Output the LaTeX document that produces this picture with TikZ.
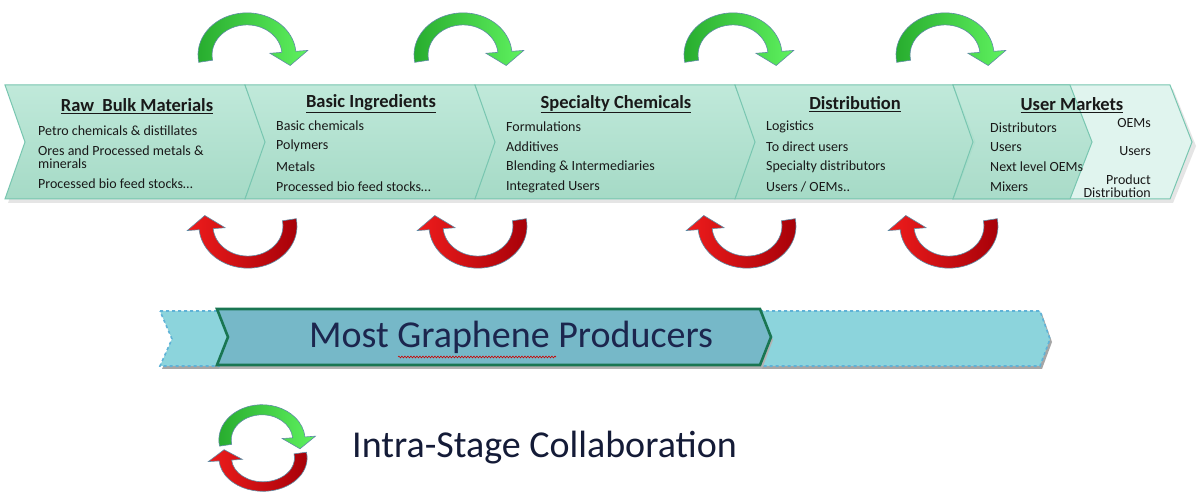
\documentclass[tikz,border=0pt]{standalone}
\usepackage{fontspec}
\setmainfont{Carlito}
\usetikzlibrary{decorations.pathmorphing}
\definecolor{chevfill}{RGB}{165,218,198}
\definecolor{chevtop}{RGB}{192,233,218}
\definecolor{chevedge}{RGB}{120,198,176}
\definecolor{chevlight}{RGB}{224,244,238}
\definecolor{gdark}{RGB}{38,170,45}
\definecolor{glight}{RGB}{95,242,95}
\definecolor{rdark}{RGB}{165,0,8}
\definecolor{rlight}{RGB}{238,28,28}
\definecolor{arrowedge}{RGB}{95,140,165}
\definecolor{bandfill}{RGB}{140,212,220}
\definecolor{bandedge}{RGB}{95,178,215}
\definecolor{prodfill}{RGB}{118,184,200}
\definecolor{prodedge}{RGB}{25,118,82}
\definecolor{navy}{RGB}{28,38,78}
\definecolor{txt}{RGB}{25,25,25}
\tikzset{
  chevbox/.style={top color=chevtop, bottom color=chevfill, draw=chevedge, line width=1pt},
  chevpale/.style={fill=chevlight, draw=chevedge, line width=1pt},
  chevshadow/.style={fill=black!10},
  hdr/.style={font=\fontsize{18.5}{20}\selectfont\bfseries, text=txt, inner sep=0pt},
  item/.style={font=\fontsize{14}{13.5}\selectfont, text=txt, anchor=west, inner sep=0pt, align=left},
  itemr/.style={font=\fontsize{14}{13}\selectfont, text=txt, anchor=east, inner sep=0pt, align=right},
  garrowshape/.style={left color=gdark, right color=glight, draw=arrowedge, line width=0.6pt},
  rarrowshape/.style={left color=rlight, right color=rdark, draw=arrowedge, line width=0.6pt},
}
% green curved arrow: center x, center y (image px), xscale, yscale
\newcommand{\greenarc}[4]{%
  \begin{scope}[shift={(#1,-#2)}, xscale=#3, yscale=#4]
    \path[garrowshape] (190:49pt) arc[start angle=190, end angle=5, radius=49pt]
      -- (5:61pt) -- (43.2,-12.2) -- (5:23pt) -- (5:35pt)
      arc[start angle=5, end angle=190, radius=35pt] -- cycle;
  \end{scope}}
% red curved arrow (rotated by 180 degrees)
\newcommand{\redarc}[4]{%
  \begin{scope}[shift={(#1,-#2)}, xscale=#3, yscale=#4, rotate=180]
    \path[rarrowshape] (190:49pt) arc[start angle=190, end angle=5, radius=49pt]
      -- (5:61pt) -- (43.2,-12.2) -- (5:23pt) -- (5:35pt)
      arc[start angle=5, end angle=190, radius=35pt] -- cycle;
  \end{scope}}
\newcommand{\chevron}[3]{%
  \path[#3] (#1,-85) -- (#2,-85) -- (#2+22,-142) -- (#2,-199) -- (#1,-199) -- (#1+20,-142) -- cycle;}
\begin{document}
\begin{tikzpicture}[x=1pt,y=1pt]
\useasboundingbox (0,0) rectangle (1200,-502);
\fill[white] (0,0) rectangle (1200,-502);

% ---- value chain chevrons ----
\path[chevshadow] (8,-89) -- (1173,-89) -- (1196,-146) -- (1173,-203) -- (8,-203) -- (28,-146) -- cycle;
\chevron{953}{1170}{chevpale}
\chevron{5}{245}{chevbox}
\chevron{245}{475}{chevbox}
\chevron{475}{735}{chevbox}
\chevron{735}{953}{chevbox}
\chevron{953}{1070}{chevbox,fill opacity=0.92}

% headers
\node[hdr] (h1) at (137,-106) {\underline{Raw\ \ Bulk Materials}};
\node[hdr] (h2) at (371,-104) {\underline{Basic Ingredients}};
\node[hdr] (h3) at (616,-104) {\underline{Specialty Chemicals}};
\node[hdr] (h4) at (855,-104) {\underline{Distribution}};
\node[hdr] (h5) at (1072,-105) {\underline{User Markets}};

% stage 1
\node[item] (a1) at (38,-131) {Petro chemicals \& distillates};
\node[item] (a2) at (38,-157) {Ores and Processed metals \&\\minerals};
\node[item] (a3) at (38,-184) {Processed bio feed stocks…};
% stage 2
\node[item] (b1) at (276,-126) {Basic chemicals};
\node[item] (b2) at (276,-146) {Polymers};
\node[item] (b3) at (276,-167) {Metals};
\node[item] (b4) at (276,-187) {Processed bio feed stocks…};
% stage 3
\node[item] (c1) at (506,-127) {Formulations};
\node[item] (c2) at (506,-147) {Additives};
\node[item] (c3) at (506,-167) {Blending \& Intermediaries};
\node[item] (c4) at (506,-187) {Integrated Users};
% stage 4
\node[item] (d1) at (766,-127) {Logistics};
\node[item] (d2) at (766,-147) {To direct users};
\node[item] (d3) at (766,-167) {Specialty distributors};
\node[item] (d4) at (766,-187) {Users / OEMs..};
% stage 5
\node[item] (e1) at (990,-128) {Distributors};
\node[item] (e2) at (990,-147) {Users};
\node[item] (e3) at (990,-167) {Next level OEMs};
\node[item] (e4) at (990,-187) {Mixers};
% stage 6
\node[itemr] (f1) at (1151,-123) {OEMs};
\node[itemr] (f2) at (1151,-151) {Users};
\node[itemr] (f3) at (1151,-186) {Product\\Distribution};

% ---- collaboration arrows ----
\greenarc{247}{55}{1}{0.86}
\greenarc{463}{55}{1}{0.86}
\greenarc{733}{55}{1}{0.86}
\greenarc{945}{55}{1}{0.86}
\redarc{248}{226}{1}{0.86}
\redarc{478}{226}{1}{0.86}
\redarc{747}{226}{1}{0.86}
\redarc{949}{226}{1}{0.86}

% ---- graphene producers band ----
\fill[black!35] (162,-314) -- (1042,-314) -- (1052,-342) -- (1042,-369) -- (162,-369) -- (174,-342) -- cycle;
\path[fill=bandfill, draw=bandedge, dashed, line width=1.6pt]
  (160,-311) -- (1040,-311) -- (1050,-339) -- (1040,-366) -- (160,-366) -- (172,-339) -- cycle;
\fill[black!30] (219,-312) -- (762,-312) -- (773,-340) -- (762,-369) -- (219,-369) -- (230,-340) -- cycle;
\path[fill=prodfill, draw=prodedge, line width=2.6pt, line join=miter]
  (217,-309) -- (760,-309) -- (771,-337) -- (760,-365) -- (217,-365) -- (228,-337) -- cycle;
\node[font=\fontsize{38}{42}\selectfont, text=navy, inner sep=0pt] (prod) at (511,-337) {Most Graphene Producers};
\draw[red!80!black, line width=0.6pt, decorate, decoration={snake, amplitude=0.9pt, segment length=3pt}]
  (398,-357) -- (556,-357);

% ---- legend ----
\greenarc{262}{440}{0.88}{0.72}
\redarc{263}{458}{0.9}{0.68}
\node[font=\fontsize{38}{42}\selectfont, text=navy!70!black, anchor=west, inner sep=0pt] (legend) at (352,-448) {Intra-Stage Collaboration};
\end{tikzpicture}
\end{document}
